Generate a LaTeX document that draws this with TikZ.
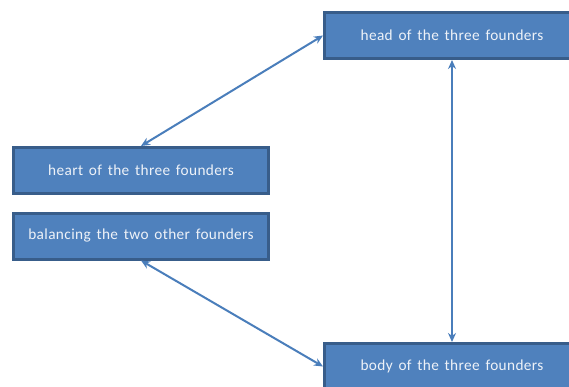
\documentclass[tikz,border=0pt]{standalone}
\usepackage{fontspec}
\setmainfont{Carlito}[LetterSpace=2.5,WordSpace=1.5]
\usetikzlibrary{arrows.meta}
\definecolor{boxfill}{HTML}{4F81BD}
\definecolor{boxline}{HTML}{385D8A}
\definecolor{linkcol}{HTML}{4A7EBB}
\definecolor{labeltext}{HTML}{EEF2F8}
\begin{document}
\begin{tikzpicture}[x=1pt,y=-1pt,
  founder/.style={draw=boxline, line width=3pt, fill=boxfill, text=labeltext,
    minimum width=255pt, minimum height=46pt, inner sep=0pt,
    font=\fontsize{15.3}{18}\selectfont},
  link/.style={draw=linkcol, line width=2pt,
    {Stealth[length=9pt,width=8pt]}-{Stealth[length=9pt,width=8pt]}}]
  \clip (0,0) rectangle (569,387);
  \fill[white] (0,0) rectangle (569,387);
  \node[founder] (head) at (452,35.5) {head of the three founders};
  \node[founder] (heart) at (141,170.5) {heart of the three founders};
  \node[founder] (bal) at (141,236) {balancing the two other founders};
  \node[founder] (body) at (452,366.5) {body of the three founders};
  \draw[link] (head.west) -- (heart.north);
  \draw[link] (bal.south) -- (body.west);
  \draw[link] (head.south) -- (body.north);
\end{tikzpicture}
\end{document}
